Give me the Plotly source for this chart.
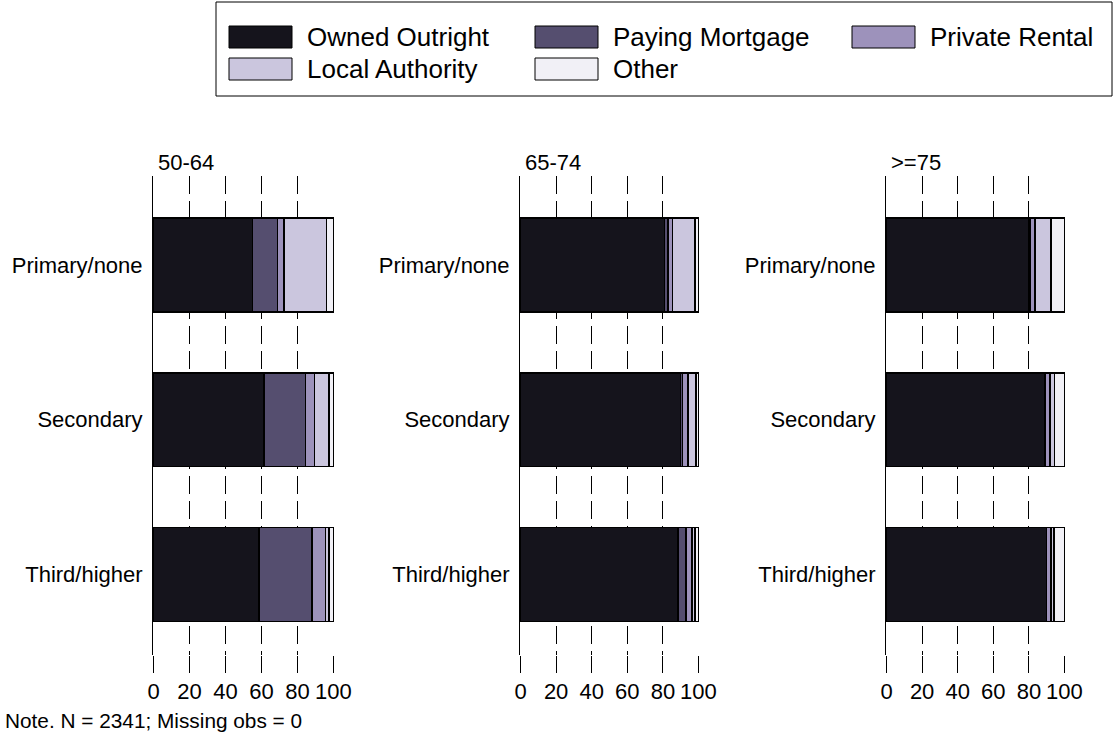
import plotly.graph_objects as go

age_groups = ["50-64", "65-74", ">=75"]
education = ["Primary/none", "Secondary", "Third/higher"]
tenure = ["Owned Outright", "Paying Mortgage", "Private Rental", "Local Authority", "Other"]
colors = ["#15141c", "#554e6f", "#9d92bb", "#cbc6de", "#f1f0f6"]

# percentages per age group, rows = education, columns = tenure
owned_outright = [[55.0, 61.5, 58.5], [81.0, 90.0, 88.5], [80.0, 89.0, 90.0]]
paying_mortgage = [[14.0, 23.0, 29.5], [2.0, 1.0, 4.5], [0.5, 0.3, 0.0]]
private_rental = [[3.5, 5.0, 7.5], [2.5, 3.0, 3.5], [3.0, 2.7, 2.5]]
local_authority = [[23.5, 8.0, 2.0], [12.5, 4.5, 1.5], [9.0, 2.3, 1.5]]
other = [[4.0, 2.5, 2.5], [2.0, 1.5, 2.0], [7.5, 5.7, 6.0]]
series = [owned_outright, paying_mortgage, private_rental, local_authority, other]

x_ticks = [0, 20, 40, 60, 80, 100]
note = "Note. N = 2341; Missing obs = 0"

W, H = 1116, 740
FONT = "Liberation Sans, Arial, sans-serif"
x_domains_px = [(153, 334), (520, 699), (886, 1065)]
y_top_px, y_bot_px = 176, 655

fig = go.Figure()
for p, age in enumerate(age_groups):
    for s, name in enumerate(tenure):
        fig.add_trace(go.Bar(
            y=education, x=series[s][p], orientation="h", name=name,
            marker=dict(color=colors[s], line=dict(color="#000000", width=1.5)),
            width=0.607, showlegend=False,
            xaxis=f"x{p+1}" if p else "x", yaxis=f"y{p+1}" if p else "y",
        ))

layout = dict(
    width=W, height=H, barmode="stack", plot_bgcolor="white", paper_bgcolor="white",
    template="none", showlegend=False,
    margin=dict(l=0, r=0, t=0, b=0, pad=0, autoexpand=False),
    font=dict(family=FONT, size=22, color="black"),
)
for p in range(3):
    xk = "xaxis" if p == 0 else f"xaxis{p+1}"
    yk = "yaxis" if p == 0 else f"yaxis{p+1}"
    x0, x1 = x_domains_px[p]
    layout[xk] = dict(
        domain=[x0 / W, x1 / W], range=[-0.3, 100.3], tickvals=x_ticks,
        showgrid=True, gridcolor="black", gridwidth=1, griddash="18px,7px",
        zeroline=False, showline=False, ticks="outside", ticklen=17,
        tickcolor="black", tickwidth=1, tickfont=dict(size=22), automargin=False,
        anchor="y" if p == 0 else f"y{p+1}", fixedrange=True,
    )
    layout[yk] = dict(
        domain=[1 - y_bot_px / H, 1 - y_top_px / H], range=[2.52, -0.575],
        type="category", showgrid=False, zeroline=False, showline=True,
        linecolor="black", linewidth=1, ticks="", ticklabelstandoff=5,
        tickfont=dict(size=22), automargin=False,
        anchor="x" if p == 0 else f"x{p+1}",
    )
fig.update_layout(**layout)

# panel titles
for p, age in enumerate(age_groups):
    fig.add_annotation(text=age, x=(x_domains_px[p][0] + 3) / W, y=1 - 163 / H,
                       xref="paper", yref="paper", xanchor="left", yanchor="middle",
                       showarrow=False, font=dict(size=22))

# legend box
fig.add_shape(type="rect", xref="paper", yref="paper",
              x0=216 / W, x1=1112 / W, y0=1 - 96 / H, y1=1 - 2 / H,
              line=dict(color="black", width=1), fillcolor="white")
leg_cols = [229, 535, 852]
leg_rows = [37, 69]
for i, name in enumerate(tenure):
    r, c = divmod(i, 3)
    sx, sy = leg_cols[c], leg_rows[r]
    fig.add_shape(type="rect", xref="paper", yref="paper",
                  x0=sx / W, x1=(sx + 63) / W, y0=1 - (sy + 11) / H, y1=1 - (sy - 11) / H,
                  line=dict(color="black", width=1), fillcolor=colors[i])
    fig.add_annotation(text=name, x=(sx + 76) / W, y=1 - sy / H, xref="paper", yref="paper",
                       xanchor="left", yanchor="middle", showarrow=False, font=dict(size=26))

fig.add_annotation(text=note, x=3 / W, y=1 - 720 / H, xref="paper", yref="paper",
                   xanchor="left", yanchor="middle", showarrow=False, font=dict(size=20.8))

fig.write_html("out.html", config={"displayModeBar": False},
               post_script="document.body.style.margin='0';document.body.style.overflow='hidden';")
